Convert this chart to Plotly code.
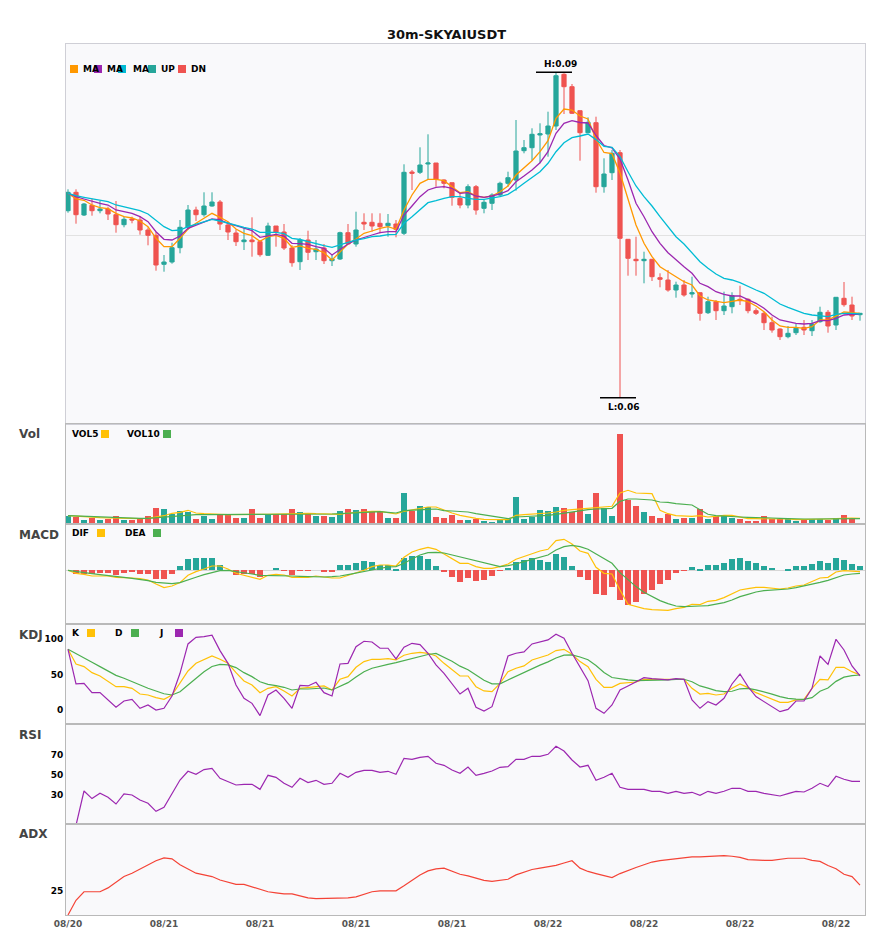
import plotly.graph_objects as go
from plotly.subplots import make_subplots

# 30m candles SKYAI/USDT, 100 bars
idx = list(range(100))
tick_pos = [0, 12, 24, 36, 48, 60, 72, 84, 96]
tick_txt = ["08/20", "08/21", "08/21", "08/21", "08/21", "08/22", "08/22", "08/22", "08/22"]

open_ = [0.07943, 0.08127, 0.07900, 0.07997, 0.07943, 0.07960, 0.07903, 0.07803, 0.07860, 0.07850,
         0.07750, 0.07697, 0.07407, 0.07430, 0.07573, 0.07777, 0.07950, 0.07903, 0.07990, 0.08030,
         0.07800, 0.07720, 0.07633, 0.07650, 0.07633, 0.07497, 0.07790, 0.07730, 0.07570, 0.07433,
         0.07650, 0.07533, 0.07570, 0.07443, 0.07460, 0.07723, 0.07610, 0.07827, 0.07827, 0.07817,
         0.07793, 0.07810, 0.07717, 0.08330, 0.08327, 0.08410, 0.08420, 0.08250, 0.08223, 0.08067,
         0.08000, 0.08183, 0.07967, 0.08017, 0.08100, 0.08217, 0.08250, 0.08543, 0.08573, 0.08700,
         0.08710, 0.08790, 0.09307, 0.09183, 0.08943, 0.08723, 0.08823, 0.08183, 0.08323, 0.08523,
         0.07657, 0.07457, 0.07443, 0.07457, 0.07273, 0.07250, 0.07150, 0.07200, 0.07110, 0.07123,
         0.06923, 0.07033, 0.06943, 0.06983, 0.07057, 0.07057, 0.06943, 0.06917, 0.06823, 0.06760,
         0.06683, 0.06723, 0.06777, 0.06743, 0.06833, 0.06927, 0.06800, 0.07067, 0.07000, 0.06903]
high = [0.08157, 0.08157, 0.08020, 0.08063, 0.08040, 0.07983, 0.08040, 0.07883, 0.07883, 0.07890,
        0.07777, 0.07730, 0.07500, 0.07623, 0.07850, 0.08000, 0.07983, 0.08127, 0.08127, 0.08050,
        0.07833, 0.07757, 0.07770, 0.07877, 0.07650, 0.07823, 0.07790, 0.07810, 0.07597, 0.07670,
        0.07743, 0.07650, 0.07610, 0.07500, 0.07733, 0.07810, 0.07933, 0.07917, 0.07917, 0.07917,
        0.07910, 0.07850, 0.08407, 0.08350, 0.08577, 0.08707, 0.08420, 0.08257, 0.08223, 0.08117,
        0.08207, 0.08200, 0.08050, 0.08117, 0.08233, 0.08333, 0.08850, 0.08650, 0.08767, 0.08817,
        0.08933, 0.09327, 0.09317, 0.09210, 0.08943, 0.08877, 0.08883, 0.08467, 0.08550, 0.08550,
        0.07657, 0.07683, 0.07533, 0.07457, 0.07317, 0.07350, 0.07233, 0.07250, 0.07283, 0.07123,
        0.07083, 0.07050, 0.07133, 0.07127, 0.07193, 0.07067, 0.06967, 0.06933, 0.06883, 0.06767,
        0.06790, 0.06810, 0.06850, 0.06850, 0.06983, 0.06950, 0.07077, 0.07230, 0.07083, 0.06917]
low = [0.07923, 0.07813, 0.07890, 0.07893, 0.07917, 0.07850, 0.07723, 0.07777, 0.07817, 0.07703,
       0.07597, 0.07343, 0.07333, 0.07413, 0.07517, 0.07750, 0.07840, 0.07883, 0.07983, 0.07750,
       0.07650, 0.07590, 0.07550, 0.07483, 0.07483, 0.07490, 0.07583, 0.07550, 0.07383, 0.07350,
       0.07450, 0.07450, 0.07410, 0.07390, 0.07450, 0.07610, 0.07583, 0.07750, 0.07733, 0.07717,
       0.07683, 0.07677, 0.07700, 0.08150, 0.08310, 0.08250, 0.08183, 0.08167, 0.07993, 0.07967,
       0.07967, 0.07903, 0.07917, 0.07950, 0.08083, 0.08183, 0.08143, 0.08517, 0.08443, 0.08417,
       0.08483, 0.08750, 0.08910, 0.08910, 0.08443, 0.08723, 0.08123, 0.08123, 0.08250, 0.06073,
       0.07293, 0.07293, 0.07217, 0.07240, 0.07177, 0.07133, 0.07073, 0.07083, 0.07073, 0.06843,
       0.06910, 0.06850, 0.06900, 0.06917, 0.07000, 0.06917, 0.06900, 0.06750, 0.06723, 0.06650,
       0.06667, 0.06700, 0.06700, 0.06690, 0.06823, 0.06723, 0.06750, 0.06983, 0.06850, 0.06843]
close = [0.08127, 0.07903, 0.08010, 0.07943, 0.07960, 0.07910, 0.07803, 0.07857, 0.07850, 0.07750,
         0.07697, 0.07400, 0.07430, 0.07573, 0.07777, 0.07950, 0.07903, 0.07990, 0.08030, 0.07810,
         0.07730, 0.07633, 0.07650, 0.07633, 0.07503, 0.07790, 0.07730, 0.07570, 0.07423, 0.07650,
         0.07527, 0.07560, 0.07443, 0.07460, 0.07723, 0.07610, 0.07750, 0.07810, 0.07790, 0.07783,
         0.07817, 0.07757, 0.08327, 0.08317, 0.08400, 0.08420, 0.08257, 0.08217, 0.08077, 0.08000,
         0.08183, 0.07950, 0.08027, 0.08100, 0.08217, 0.08273, 0.08540, 0.08573, 0.08707, 0.08713,
         0.08790, 0.09293, 0.09183, 0.08917, 0.08723, 0.08827, 0.08183, 0.08310, 0.08517, 0.07667,
         0.07467, 0.07443, 0.07457, 0.07283, 0.07257, 0.07150, 0.07200, 0.07100, 0.07123, 0.06917,
         0.07033, 0.06943, 0.06990, 0.07093, 0.07043, 0.06943, 0.06917, 0.06823, 0.06750, 0.06683,
         0.06717, 0.06767, 0.06750, 0.06810, 0.06927, 0.06790, 0.07077, 0.07003, 0.06890, 0.06917]

# moving averages
ma5 = [0.08117, 0.08060, 0.08047, 0.08000, 0.07973, 0.07963, 0.07917, 0.07883, 0.07870, 0.07840,
       0.07783, 0.07667, 0.07583, 0.07583, 0.07667, 0.07760, 0.07817, 0.07867, 0.07917, 0.07877,
       0.07833, 0.07760, 0.07717, 0.07693, 0.07637, 0.07683, 0.07697, 0.07667, 0.07577, 0.07590,
       0.07567, 0.07557, 0.07523, 0.07450, 0.07533, 0.07610, 0.07660, 0.07717, 0.07740, 0.07767,
       0.07783, 0.07757, 0.07950, 0.08100, 0.08217, 0.08257, 0.08257, 0.08243, 0.08183, 0.08123,
       0.08133, 0.08090, 0.08077, 0.08090, 0.08133, 0.08190, 0.08300, 0.08367, 0.08443, 0.08533,
       0.08643, 0.08867, 0.08960, 0.08950, 0.08890, 0.08860, 0.08657, 0.08525, 0.08513, 0.08320,
       0.08050, 0.07800, 0.07617, 0.07483, 0.07383, 0.07333, 0.07283, 0.07233, 0.07200, 0.07090,
       0.07050, 0.07033, 0.07023, 0.07037, 0.07050, 0.07033, 0.06990, 0.06933, 0.06850, 0.06790,
       0.06777, 0.06777, 0.06767, 0.06783, 0.06850, 0.06850, 0.06890, 0.06930, 0.06923, 0.06917]
ma10 = [0.08117, 0.08083, 0.08060, 0.08037, 0.08017, 0.08000, 0.07950, 0.07933, 0.07917, 0.07883,
        0.07833, 0.07733, 0.07657, 0.07650, 0.07690, 0.07767, 0.07800, 0.07833, 0.07860, 0.07850,
        0.07817, 0.07793, 0.07767, 0.07743, 0.07677, 0.07690, 0.07707, 0.07690, 0.07617, 0.07613,
        0.07607, 0.07583, 0.07567, 0.07500, 0.07557, 0.07610, 0.07650, 0.07677, 0.07700, 0.07723,
        0.07733, 0.07733, 0.07900, 0.07990, 0.08083, 0.08150, 0.08177, 0.08183, 0.08167, 0.08117,
        0.08123, 0.08090, 0.08077, 0.08090, 0.08110, 0.08143, 0.08233, 0.08290, 0.08350, 0.08423,
        0.08533, 0.08717, 0.08817, 0.08843, 0.08825, 0.08820, 0.08695, 0.08595, 0.08572, 0.08460,
        0.08250, 0.08017, 0.07883, 0.07733, 0.07617, 0.07523, 0.07450, 0.07383, 0.07317, 0.07217,
        0.07183, 0.07133, 0.07107, 0.07090, 0.07090, 0.07057, 0.07017, 0.06967, 0.06900, 0.06850,
        0.06833, 0.06817, 0.06810, 0.06817, 0.06843, 0.06843, 0.06867, 0.06900, 0.06907, 0.06907]
ma20 = [0.08117, 0.08093, 0.08077, 0.08063, 0.08050, 0.08033, 0.08000, 0.07980, 0.07963, 0.07943,
        0.07910, 0.07850, 0.07783, 0.07743, 0.07750, 0.07783, 0.07810, 0.07833, 0.07857, 0.07840,
        0.07817, 0.07793, 0.07777, 0.07760, 0.07727, 0.07727, 0.07727, 0.07713, 0.07667, 0.07655,
        0.07633, 0.07610, 0.07593, 0.07577, 0.07600, 0.07630, 0.07650, 0.07663, 0.07683, 0.07690,
        0.07703, 0.07707, 0.07817, 0.07883, 0.07950, 0.08023, 0.08043, 0.08067, 0.08083, 0.08083,
        0.08067, 0.08057, 0.08057, 0.08067, 0.08083, 0.08107, 0.08157, 0.08217, 0.08273, 0.08333,
        0.08417, 0.08533, 0.08623, 0.08673, 0.08690, 0.08710, 0.08654, 0.08587, 0.08577, 0.08483,
        0.08333, 0.08190, 0.08083, 0.07990, 0.07883, 0.07783, 0.07683, 0.07610, 0.07517, 0.07433,
        0.07367, 0.07310, 0.07267, 0.07250, 0.07223, 0.07183, 0.07150, 0.07117, 0.07067, 0.07010,
        0.06977, 0.06950, 0.06917, 0.06900, 0.06890, 0.06883, 0.06907, 0.06917, 0.06917, 0.06910]

vol = [83000, 70000, 43000, 60000, 43000, 53000, 83000, 37000, 37000, 60000,
       83000, 163000, 153000, 103000, 133000, 123000, 53000, 83000, 53000, 93000,
       93000, 63000, 63000, 153000, 63000, 103000, 103000, 103000, 153000, 123000,
       103000, 83000, 83000, 73000, 133000, 153000, 143000, 153000, 133000, 133000,
       63000, 63000, 313000, 133000, 183000, 173000, 73000, 63000, 93000, 43000,
       43000, 50000, 33000, 23000, 53000, 53000, 273000, 53000, 73000, 143000,
       133000, 173000, 163000, 120000, 243000, 103000, 313000, 163000, 83000, 903000,
       243000, 183000, 123000, 83000, 63000, 103000, 53000, 63000, 63000, 153000,
       53000, 83000, 93000, 63000, 53000, 33000, 33000, 83000, 53000, 53000,
       53000, 33000, 43000, 53000, 53000, 43000, 63000, 93000, 53000, 3000]
vol5 = [83000, 77000, 70000, 67000, 63000, 60000, 57000, 53000, 53000, 53000,
        57000, 70000, 83000, 107000, 117000, 137000, 110000, 103000, 97000, 97000,
        93000, 93000, 90000, 93000, 93000, 97000, 100000, 103000, 107000, 107000,
        107000, 103000, 100000, 97000, 97000, 110000, 117000, 123000, 127000, 127000,
        110000, 100000, 127000, 143000, 157000, 170000, 170000, 137000, 110000, 87000,
        70000, 57000, 47000, 43000, 43000, 43000, 87000, 93000, 97000, 100000,
        110000, 120000, 137000, 143000, 150000, 160000, 170000, 177000, 177000, 310000,
        337000, 310000, 310000, 303000, 137000, 103000, 83000, 77000, 77000, 83000,
        70000, 77000, 87000, 87000, 70000, 53000, 53000, 53000, 53000, 50000,
        50000, 43000, 43000, 43000, 50000, 50000, 53000, 60000, 60000, 57000]
vol10 = [83000, 80000, 77000, 73000, 70000, 63000, 60000, 57000, 57000, 57000,
         57000, 63000, 70000, 77000, 83000, 90000, 93000, 93000, 93000, 93000,
         93000, 93000, 93000, 97000, 97000, 97000, 97000, 97000, 97000, 100000,
         100000, 100000, 100000, 100000, 103000, 107000, 113000, 120000, 123000, 123000,
         117000, 110000, 133000, 140000, 143000, 147000, 150000, 133000, 130000, 123000,
         120000, 103000, 90000, 77000, 63000, 53000, 70000, 73000, 77000, 80000,
         87000, 97000, 110000, 120000, 137000, 143000, 150000, 153000, 157000, 227000,
         250000, 250000, 243000, 240000, 220000, 217000, 203000, 193000, 190000, 143000,
         97000, 83000, 77000, 70000, 70000, 67000, 67000, 63000, 60000, 57000,
         53000, 50000, 50000, 50000, 50000, 53000, 53000, 53000, 53000, 53000]

# MACD in units of 1e-5
dif = [0, -3, -4, -5.7, -5.7, -5.7, -7, -7.7, -7.7, -8.3,
       -9.7, -13.7, -17.3, -15.7, -12.3, -5, -1.3, 1.3, 4.3, 4.3,
       1.3, -3, -5, -6.3, -9, -5, -4, -4.7, -7, -7,
       -7, -5.7, -6.7, -7.7, -7.7, -5, -3, 0, 3.7, 5.3,
       5.3, 4.3, 13, 18.3, 21, 23, 21, 16.3, 12, 7,
       7, 3.7, 2, 2, 3.7, 6.3, 11, 13.7, 17, 19.3,
       21, 29.7, 31, 26.3, 19.3, 17, 3, -3, -3.7, -19.7,
       -34, -36.3, -38.3, -39.3, -40, -40, -38.3, -37, -34, -34.3,
       -31, -30, -27.3, -23.7, -19.7, -18.3, -17, -17, -18, -18.7,
       -17.7, -15.7, -14.7, -11.3, -7.7, -7, -1.7, -0.3, -0.7, -1.3]
dea = [0, -1.3, -2.3, -3.3, -4.3, -5, -6, -7, -8, -9,
       -10.3, -12, -13, -13.3, -12.3, -10, -7, -4.3, -2, -0.3,
       0, -1, -2.3, -3.7, -5, -5, -5, -5, -5.7, -6,
       -6.3, -6.3, -6.7, -6.3, -5.7, -4.3, -3, -1.3, 0.3, 2,
       3.3, 3.7, 7, 11.3, 15.3, 17.7, 18, 17.3, 15.3, 13.7,
       12, 10, 7.7, 5.3, 3.7, 4.7, 6.3, 8.7, 11, 13,
       15.3, 20.3, 23.7, 25, 23.7, 21, 16.3, 11, 7, -2.3,
       -9.7, -16.3, -22, -26.3, -30.3, -33.3, -35.7, -36.3, -36.3, -35.7,
       -35.3, -34, -32.3, -29.7, -26.3, -24, -21.7, -20.3, -19.7, -19,
       -18.7, -17.3, -15.7, -14, -12, -10, -7, -4.7, -3.7, -3]
macd_hist = [0, -4, -4, -3.3, -2.7, -2.7, -5, -2.7, -1.7, -3.3,
             -3.3, -8.3, -8.7, -3.3, 4.3, 11.3, 12.3, 12.3, 12.3, 5,
             0, -4.7, -3.3, -4, -6.3, 0, 2.3, -0.7, -5, -0.7,
             -0.7, 0, -1.7, -1.7, 5.3, 5.3, 7.3, 9.3, 8.3, 5.3,
             5.3, 1.3, 12.3, 14.3, 14.3, 11.3, 4.3, -1.7, -7, -11.7,
             -7.7, -10.3, -9.7, -5.7, -0.7, 2.3, 8.3, 10.3, 12.3, 10.3,
             8.3, 16.3, 13.3, 4.3, -6.7, -9.7, -23.7, -24.7, -16.3, -29.7,
             -34.7, -31.7, -23.7, -19.7, -13.7, -9.7, -2.7, -0.7, 3.3, 1,
             5.3, 5.3, 7.3, 11.3, 12.3, 9.3, 7.3, 4.3, 2.3, 0,
             1, 4.3, 4.3, 6.3, 9.3, 7.3, 12.3, 10.3, 6.3, 4.3]

kdj_k = [85.8, 65.1, 61.3, 52.8, 48.1, 41.0, 33.0, 33.0, 30.7, 22.6,
         21.2, 17.5, 15.1, 21.2, 37.7, 55.2, 66.0, 71.7, 76.4, 71.7,
         66.0, 52.8, 41.0, 35.4, 24.5, 30.7, 33.0, 26.9, 19.8, 30.7,
         31.6, 33.0, 34.0, 28.3, 43.4, 47.2, 60.4, 68.4, 71.7, 71.7,
         72.6, 70.8, 77.4, 80.2, 81.6, 80.2, 76.4, 66.0, 56.6, 48.1,
         48.1, 33.0, 26.9, 26.0, 37.7, 54.2, 59.0, 62.3, 70.8, 74.5,
         77.8, 84.0, 85.8, 78.8, 68.4, 61.3, 43.4, 32.1, 32.1, 37.7,
         38.7, 39.6, 43.4, 43.4, 42.5, 42.5, 43.4, 43.4, 30.7, 22.6,
         23.6, 21.2, 22.6, 30.7, 36.8, 31.6, 24.5, 19.8, 15.6, 10.8,
         10.8, 14.2, 15.1, 30.7, 43.4, 42.5, 60.4, 60.4, 54.2, 49.5]
kdj_d = [85.8, 80.0, 74.0, 67.5, 61.3, 55.7, 49.0, 44.8, 40.1, 35.0,
         30.7, 26.9, 23.0, 21.2, 25.9, 35.4, 44.8, 54.2, 61.5, 64.6,
         63.7, 60.0, 52.8, 47.2, 40.0, 36.3, 34.4, 32.1, 28.3, 29.7,
         29.7, 30.7, 31.1, 28.3, 33.5, 38.7, 46.5, 54.0, 59.0, 62.3,
         64.6, 67.0, 70.0, 73.0, 75.5, 78.5, 80.0, 75.0, 69.0, 62.0,
         57.0, 49.5, 42.0, 37.0, 37.0, 42.5, 48.0, 52.5, 58.5, 63.5,
         68.0, 73.5, 77.5, 78.0, 75.0, 71.0, 63.0, 53.0, 46.0, 44.0,
         42.5, 41.5, 41.5, 41.5, 42.0, 42.5, 43.4, 43.4, 40.0, 34.0,
         31.0, 27.5, 25.9, 26.5, 30.0, 30.5, 28.5, 26.0, 22.5, 19.0,
         16.5, 15.5, 15.1, 17.5, 26.5, 31.0, 40.5, 46.5, 48.6, 49.5]
kdj_j = [85.8, 36.8, 37.7, 24.5, 24.5, 14.2, 3.8, 12.7, 15.1, 2.4,
         7.1, 0.0, 2.4, 19.8, 51.9, 93.4, 102.8, 103.8, 105.7, 84.0,
         66.0, 35.4, 16.5, 9.4, -8.0, 21.2, 28.3, 16.5, 2.4, 34.9,
         34.0, 39.2, 24.5, 19.8, 65.1, 66.0, 89.6, 97.2, 96.2, 87.3,
         87.3, 72.2, 88.7, 94.3, 92.5, 80.2, 63.7, 51.9, 36.8, 22.6,
         30.7, 3.8, -1.4, 4.7, 38.7, 76.4, 80.2, 82.1, 93.4, 96.2,
         99.1, 107.1, 101.4, 80.2, 61.3, 41.5, 2.4, -4.7, 7.1, 28.3,
         34.0, 40.1, 45.8, 44.3, 43.4, 42.5, 44.3, 43.4, 14.2, 2.4,
         11.8, 7.1, 16.5, 36.8, 50.9, 33.0, 18.9, 11.8, 3.8, -2.4,
         0.9, 12.7, 12.7, 30.7, 76.4, 64.6, 100.0, 84.9, 62.3, 48.1]

rsi = [0, 0, 34.3, 26.7, 32, 28, 21.3, 31.3, 30.3, 25.3,
       22, 14, 18, 31.3, 45.3, 54, 51, 55.7, 57, 47,
       44, 40.3, 41, 41, 36, 50, 48, 42, 38, 47,
       42.7, 45, 41, 42, 52, 48, 53, 55, 55, 53,
       54, 51, 67, 66, 68, 69, 62, 60, 55.3, 52,
       58.3, 50, 52, 54.3, 58, 58.7, 66, 66, 69, 69,
       71, 79, 74.3, 65.3, 58.3, 60, 45, 48, 52, 38,
       36, 36, 36, 34, 34, 32, 34, 32, 33, 30,
       34, 32, 34, 37, 37, 34, 34, 32, 31, 29.3,
       31.7, 34, 33.3, 37, 42, 38.7, 49, 46, 44, 44]

adx = [0, 15.2, 24, 24, 24, 28, 33.7, 39.7, 43.2, 47.7,
       52, 56, 59, 58, 52, 47.4, 43.2, 41.4, 39.7, 36.2,
       33.7, 31.6, 31.6, 28.8, 26.4, 24, 22.9, 21.9, 21.9, 19.8,
       17.7, 17, 17, 17, 17, 17.7, 18.7, 21.2, 24, 25,
       25, 25, 30.2, 35.8, 41.4, 45.6, 47.7, 48.4, 45, 42.1,
       40.4, 37.9, 35.8, 34.8, 35.5, 36.9, 41.4, 44.2, 47, 48.4,
       49.5, 51.2, 53.7, 56, 48.4, 45, 42.8, 40.7, 38.6, 42.8,
       46.3, 49.1, 51.9, 54.7, 56.1, 57.2, 58.2, 59.3, 60, 60,
       60.7, 60.7, 61.4, 60.7, 59.6, 57.2, 56.5, 56.5, 56.5, 57.5,
       58.6, 58.6, 58.6, 56.5, 55.4, 51.2, 47.7, 42.1, 39.7, 30.9]

UP = "#26A69A"
DN = "#EF5350"
YEL = "#FFC107"
GRN = "#4CAF50"
PUR = "#9C27B0"
FONT = "DejaVu Sans"

# the page has an 8px body margin, so the figure is 8px smaller than the window
OFF = 8
W, H = 885 - OFF, 950 - OFF
ML, MR, MT, MB = 66 - OFF, 20, 44 - OFF, 35


def paper(x, y):
    # pixel position in the window -> paper coordinates
    x, y = x - OFF, y - OFF
    return (x - ML) / (W - ML - MR), (H - MB - y) / (H - MT - MB)


fig = make_subplots(rows=6, cols=1, shared_xaxes=True, vertical_spacing=0,
                    row_heights=[380, 100, 100, 100, 100, 91])

# price + MAs
fig.add_trace(go.Candlestick(x=idx, open=open_, high=high, low=low, close=close,
                             increasing=dict(line=dict(color=UP, width=1), fillcolor=UP),
                             decreasing=dict(line=dict(color=DN, width=1), fillcolor=DN),
                             whiskerwidth=0, showlegend=False, name="K"), row=1, col=1)
fig.add_trace(go.Scatter(x=idx, y=ma5, mode="lines", line=dict(color="#FF9800", width=1.3), showlegend=False), row=1, col=1)
fig.add_trace(go.Scatter(x=idx, y=ma10, mode="lines", line=dict(color=PUR, width=1.3), showlegend=False), row=1, col=1)
fig.add_trace(go.Scatter(x=idx, y=ma20, mode="lines", line=dict(color="#00BCD4", width=1.3), showlegend=False), row=1, col=1)

# volume
vol_colors = [UP if close[i] >= open_[i] else DN for i in idx]
fig.add_trace(go.Bar(x=idx, y=vol, marker=dict(color=vol_colors, line=dict(width=0)), width=0.72, showlegend=False), row=2, col=1)
fig.add_trace(go.Scatter(x=idx, y=vol5, mode="lines", line=dict(color=YEL, width=1.2), showlegend=False), row=2, col=1)
fig.add_trace(go.Scatter(x=idx, y=vol10, mode="lines", line=dict(color=GRN, width=1.2), showlegend=False), row=2, col=1)

# MACD
hist_colors = [UP if v >= 0 else DN for v in macd_hist]
fig.add_trace(go.Bar(x=idx, y=macd_hist, marker=dict(color=hist_colors, line=dict(width=0)), width=0.72, showlegend=False), row=3, col=1)
fig.add_trace(go.Scatter(x=idx, y=dif, mode="lines", line=dict(color=YEL, width=1.2), showlegend=False), row=3, col=1)
fig.add_trace(go.Scatter(x=idx, y=dea, mode="lines", line=dict(color=GRN, width=1.2), showlegend=False), row=3, col=1)

# KDJ
for lvl, col in [(100, "#a6dcd4"), (50, "#cfcfcf"), (0, "#f6b3b3")]:
    fig.add_hline(y=lvl, line=dict(color=col, width=1), row=4, col=1)
fig.add_trace(go.Scatter(x=idx, y=kdj_k, mode="lines", line=dict(color=YEL, width=1.2), showlegend=False), row=4, col=1)
fig.add_trace(go.Scatter(x=idx, y=kdj_d, mode="lines", line=dict(color=GRN, width=1.2), showlegend=False), row=4, col=1)
fig.add_trace(go.Scatter(x=idx, y=kdj_j, mode="lines", line=dict(color=PUR, width=1.2), showlegend=False), row=4, col=1)

# RSI
for lvl, col in [(70, "#a6dcd4"), (50, "#cfcfcf"), (30, "#f6b3b3")]:
    fig.add_hline(y=lvl, line=dict(color=col, width=1), row=5, col=1)
fig.add_trace(go.Scatter(x=idx, y=rsi, mode="lines", line=dict(color=PUR, width=1.2), showlegend=False), row=5, col=1)

# ADX
fig.add_hline(y=25, line=dict(color="#dcb3ec", width=1), row=6, col=1)
fig.add_trace(go.Scatter(x=idx, y=adx, mode="lines", line=dict(color="#F44336", width=1.2), showlegend=False), row=6, col=1)

# high / low markers
hi = max(idx, key=lambda i: high[i])
lo = min(idx, key=lambda i: low[i])
mark_font = dict(family=FONT, size=9, color="black", weight="bold")
fig.add_shape(type="line", x0=hi - 2.5, x1=hi + 2, y0=high[hi], y1=high[hi],
              line=dict(color="black", width=1.5), row=1, col=1)
fig.add_annotation(x=hi + 0.6, y=high[hi], text=f"H:{high[hi]:.2f}", showarrow=False,
                   yanchor="bottom", yshift=1, font=mark_font, row=1, col=1)
fig.add_shape(type="line", x0=lo - 2.5, x1=lo + 2, y0=low[lo], y1=low[lo],
              line=dict(color="black", width=1.5), row=1, col=1)
fig.add_annotation(x=lo + 0.5, y=low[lo], text=f"L:{low[lo]:.2f}", showarrow=False,
                   yanchor="top", yshift=-2, font=mark_font, row=1, col=1)

# panel names on the left
for name, y in [("Vol", 434), ("MACD", 535), ("KDJ", 635), ("RSI", 735), ("ADX", 834)]:
    px, py = paper(17, y)
    fig.add_annotation(x=px, y=py, xref="paper", yref="paper", text=name, showarrow=False,
                       xanchor="left", yanchor="middle",
                       font=dict(family=FONT, size=12, color="#444", weight="bold"))

# little legends: (text, text_x, square_x, colour)
legends = [
    (69, [("MA", 81, 70, "#FF9800"), ("MA", 105, 94, PUR), ("MA", 131, 118, "#00BCD4"),
          ("UP", 159, 148, UP), ("DN", 189, 178, DN)]),
    (434, [("VOL5", 70, 101, YEL), ("VOL10", 125, 163, GRN)]),
    (533, [("DIF", 70, 97, YEL), ("DEA", 123, 153, GRN)]),
    (633, [("K", 70, 87, YEL), ("D", 113, 131, GRN), ("J", 157, 175, PUR)]),
]
for ly, items in legends:
    for txt, tx, sx, col in items:
        x0, y0 = paper(sx, ly + 4)
        x1, y1 = paper(sx + 8, ly - 4)
        fig.add_shape(type="rect", xref="paper", yref="paper", x0=x0, x1=x1, y0=y0, y1=y1,
                      fillcolor=col, line=dict(width=0))
        px, py = paper(tx, ly)
        fig.add_annotation(x=px, y=py, xref="paper", yref="paper", text=txt, showarrow=False,
                           xanchor="left", yanchor="middle",
                           font=dict(family=FONT, size=9, color="black", weight="bold"))

tick_font = dict(family=FONT, size=9, color="black", weight="bold")
fig.update_xaxes(range=[-0.25, 99.625], showgrid=False, zeroline=False, showline=True, mirror=True,
                 linecolor="#b9b9b9", linewidth=1, ticks="", rangeslider_visible=False)
fig.update_xaxes(tickvals=tick_pos, ticktext=tick_txt,
                 tickfont=dict(family=FONT, size=9, color="#555", weight="bold"), row=6, col=1)
fig.update_yaxes(showgrid=False, zeroline=False, showline=True, mirror=True, linecolor="#b9b9b9",
                 linewidth=1, ticks="", showticklabels=False)
fig.update_yaxes(range=[0.0581, 0.0961], tickvals=[0.077], showgrid=True, gridcolor="#e2e2e2",
                 linecolor="#cfcfd6", row=1, col=1)
fig.update_xaxes(linecolor="#cfcfd6", row=1, col=1)
fig.update_yaxes(range=[0, 1000000], row=2, col=1)
fig.update_yaxes(range=[-53.7, 46.3], zeroline=True, zerolinecolor="#d6d6d6", zerolinewidth=1, row=3, col=1)
fig.update_yaxes(range=[-19.8, 121.6], tickvals=[0, 50, 100], showticklabels=True, tickfont=tick_font, row=4, col=1)
fig.update_yaxes(range=[1.3, 101.3], tickvals=[30, 50, 70], showticklabels=True, tickfont=tick_font, row=5, col=1)
fig.update_yaxes(range=[0, 94], tickvals=[25], showticklabels=True, tickfont=tick_font, row=6, col=1)

fig.update_layout(
    width=W, height=H,
    margin=dict(l=ML, r=MR, t=MT, b=MB),
    title=dict(text="30m-SKYAIUSDT", x=0.5, xanchor="center", y=1 - (34 - OFF) / H, yanchor="middle",
               font=dict(family=FONT, size=13, color="#111", weight="bold")),
    font=dict(family=FONT),
    paper_bgcolor="white",
    plot_bgcolor="#f9f9fb",
    bargap=0,
    boxgap=0.25,
    showlegend=False,
    hovermode=False,
)

fig.write_html("out.html")
